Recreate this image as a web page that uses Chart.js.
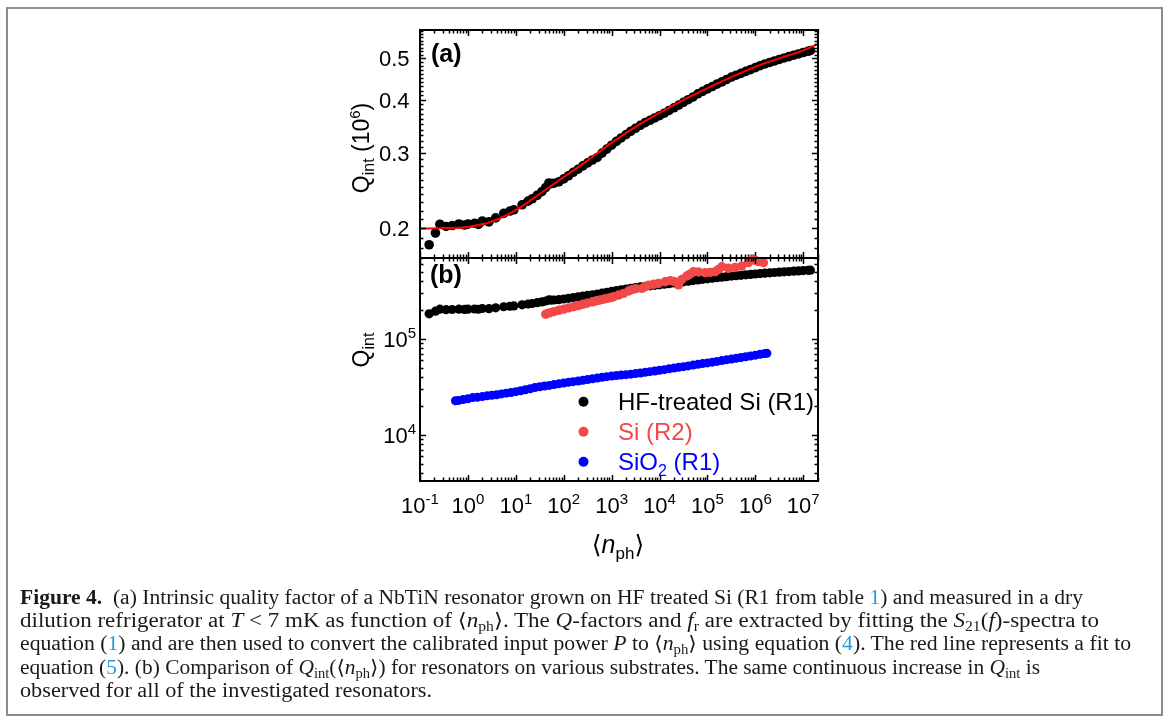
<!DOCTYPE html>
<html>
<head>
<meta charset="utf-8">
<script src="https://cdn.jsdelivr.net/npm/chart.js@4.4.0/dist/chart.umd.min.js"></script>
<style>
  html,body{margin:0;padding:0;background:#fff;}
  body{width:1174px;height:726px;overflow:hidden;position:relative;}
  #frame{position:absolute;left:6px;top:7px;width:1157px;height:709px;border:2px solid #8c8c8c;box-sizing:border-box;}
  canvas{position:absolute;left:0;top:0;}
  #cap{position:absolute;left:20px;top:586px;font-family:"Liberation Serif","DejaVu Serif","DejaVu Sans",serif;font-size:20px;line-height:23.2px;color:#1a1a1a;}
  #cap .ln{white-space:nowrap;display:block;width:max-content;transform-origin:0 50%;}
  #cap sub{font-size:0.68em;vertical-align:-0.3em;line-height:0;}
  #cap .lk{color:#2b9ad6;}
</style>
</head>
<body>
<div id="frame"></div>
<canvas id="ca" width="1174" height="726"></canvas>
<canvas id="cb" width="1174" height="726"></canvas>
<div id="cap">
  <div class="ln" data-right="1083"><b>Figure 4.</b>&nbsp;&nbsp;(a) Intrinsic quality factor of a NbTiN resonator grown on HF treated Si (R1 from table <span class="lk">1</span>) and measured in a dry</div>
  <div class="ln" data-right="1099">dilution refrigerator at <i>T</i> &lt; 7 mK as function of ⟨<i>n</i><sub>ph</sub>⟩. The <i>Q</i>-factors and <i>f</i><sub>r</sub> are extracted by fitting the <i>S</i><sub>21</sub>(<i>f</i>)-spectra to</div>
  <div class="ln" data-right="1131">equation (<span class="lk">1</span>) and are then used to convert the calibrated input power <i>P</i> to ⟨<i>n</i><sub>ph</sub>⟩ using equation (<span class="lk">4</span>). The red line represents a fit to</div>
  <div class="ln" data-right="1040">equation (<span class="lk">5</span>). (b) Comparison of <i>Q</i><sub>int</sub>(⟨<i>n</i><sub>ph</sub>⟩) for resonators on various substrates. The same continuous increase in <i>Q</i><sub>int</sub> is</div>
  <div class="ln" data-right="432">observed for all of the investigated resonators.</div>
</div>
<script>
// ---------------- data ----------------
// HF-treated Si (R1): mean photon number and Q_int (in units of 10^6)
const hfX = [0.155,0.21,0.26,0.35,0.47,0.65,0.85,1.0,1.38,1.66,
  2.0,2.75,3.8,5.6,7.5,9.1,13.5,18,22,28,
  35,42,49,55,63,79,100,126,158,200,
  251,316,398,501,631,794,1000,1260,1580,2000,
  2510,3160,3980,5010,6310,7940,1e4,1.26e4,1.58e4,2e4,
  2.51e4,3.16e4,3.98e4,5.01e4,6.31e4,7.94e4,1e5,1.26e5,1.58e5,2e5,
  2.51e5,3.16e5,3.98e5,5.01e5,6.31e5,7.94e5,1e6,1.26e6,1.58e6,2e6,
  2.51e6,3.16e6,3.98e6,5.01e6,6.31e6,7.94e6,1e7,1.26e7,1.41e7];
const hfQ = [0.183,0.195,0.2044,0.2020,0.2030,0.2047,0.2035,0.2045,0.2055,0.2042,
  0.2080,0.2070,0.2115,0.2168,0.2195,0.2210,0.2270,0.2315,0.2345,0.2390,
  0.2437,0.2490,0.2554,0.2545,0.2550,0.2570,0.2610,0.2655,0.2705,0.2750,
  0.2800,0.2845,0.2890,0.2930,0.3000,0.3065,0.3130,0.3195,0.3255,0.3315,
  0.3375,0.3430,0.3485,0.3535,0.3580,0.3625,0.3670,0.3720,0.3775,0.3830,
  0.3885,0.3945,0.4000,0.4060,0.4130,0.4185,0.4240,0.4295,0.4350,0.4405,
  0.4460,0.4520,0.4565,0.4610,0.4660,0.4705,0.4755,0.4805,0.4850,0.4890,
  0.4930,0.4970,0.5010,0.5045,0.5085,0.5120,0.5160,0.5195,0.5215];
// fit to equation (5) (units of 10^6)
const fitX = [0.1,0.316,1,3.16,10,31.6,100,316,1000,3162,1e4,31623,1e5,316228,1e6,3162278,1e7,2.03e7];
const fitQ = [0.1998,0.2002,0.2015,0.2075,0.2205,0.2410,0.2635,0.2885,0.3170,0.3455,0.3725,0.3995,0.4260,0.4520,0.4775,0.5000,0.5220,0.5400];
// Si (R2)
const siX = [42,50,62,79,100,126,162,200,251,306,
  398,480,575,690,800,950,1100,1400,1780,2260,
  2650,3200,4290,5000,5900,7500,9530,1.31e4,1.67e4,2.0e4,
  2.49e4,2.92e4,3.71e4,4.3e4,5.1e4,6.5e4,8.9e4,1.14e5,1.45e5,1.7e5,
  1.99e5,2.74e5,3.77e5,5.19e5,7.14e5,8.4e5,1.0e6,1.16e6,1.47e6];
const siQ = [1.81e5,1.87e5,1.93e5,1.99e5,2.05e5,2.11e5,2.17e5,2.23e5,2.30e5,2.36e5,
  2.44e5,2.50e5,2.55e5,2.60e5,2.65e5,2.70e5,2.76e5,2.87e5,2.99e5,3.16e5,
  3.27e5,3.35e5,3.37e5,3.50e5,3.63e5,3.72e5,3.80e5,3.95e5,4.06e5,3.98e5,
  3.67e5,4.17e5,4.53e5,4.73e5,5.02e5,4.99e5,4.91e5,4.94e5,5.02e5,5.30e5,
  5.66e5,5.45e5,5.58e5,5.75e5,6.24e5,6.76e5,6.60e5,6.40e5,6.24e5];
// SiO2 (R1)
const sio2X = [0.55,0.631,0.794,1,1.26,1.58,2.0,2.51,3.16,3.98,5.01,6.31,7.94,
  10,12.6,15.8,20,25.1,31.6,39.8,50.1,63.1,79.4,
  100,126,158,200,251,316,398,501,631,794,
  1000,1260,1580,2000,2510,3160,3980,5010,6310,7940,
  1e4,1.26e4,1.58e4,2e4,2.51e4,3.16e4,3.98e4,5.01e4,6.31e4,7.94e4,
  1e5,1.26e5,1.58e5,2e5,2.51e5,3.16e5,3.98e5,5.01e5,6.31e5,7.94e5,
  1e6,1.26e6,1.58e6,1.74e6];
const sio2Q = [22750,22910,23440,23880,24550,24770,25120,25590,25940,26300,
  26790,27290,27730,28310,28910,29650,30340,31260,31840,32360,
  32890,33500,34120,34750,35400,35970,36560,37150,37840,38460,
  39170,39900,40550,41110,41590,42070,42560,43050,43650,44260,
  44980,45710,46450,47210,47970,48870,49770,50700,51520,52480,
  53460,54450,55460,56360,57410,58480,59570,60670,61800,62950,
  64120,65310,66530,67920,69340,70630,70960];

// axis ranges and tick labels
const xMin = 0.1, xMax = 2.03e7;
const aYMin = 0.1704, aYMax = 0.5825;
const bYMin = 3319, bYMax = 6.98e5;
const xTickExponents = [-1,0,1,2,3,4,5,6,7];
const aTickValues = [0.2,0.3,0.4,0.5];
const aTickLabels = ['0.2','0.3','0.4','0.5'];
const bTickExponents = [4,5];
const legendLabels = ['HF-treated Si (R1)','Si (R2)','SiO₂ (R1)'];
const colBlack = '#000000', colRed = '#f24848', colBlue = '#0000ff', colFit = '#ff0000';

// ---------------- helpers ----------------
const SANS = '"Liberation Sans", Arial, sans-serif';
function fontOf(s){ return (s.italic?'italic ':'') + (s.bold?'bold ':'') + s.size + 'px ' + (s.fam || SANS); }
function drawRich(ctx, segs, x, y, align, color){
  let total = 0;
  segs.forEach(s => { ctx.font = fontOf(s); s.w = ctx.measureText(s.t).width; total += s.w; });
  let cx = align === 'center' ? x - total/2 : (align === 'right' ? x - total : x);
  ctx.textAlign = 'left'; ctx.textBaseline = 'alphabetic';
  segs.forEach(s => { ctx.font = fontOf(s); ctx.fillStyle = s.color || color || '#000'; ctx.fillText(s.t, cx, y + (s.dy||0)); cx += s.w; });
}
function pts(xs, ys, k){ return xs.map((x,i) => ({x:x, y:ys[i]*(k||1)})); }

function drawFrameAndTicks(chart, yTickList){
  const ctx = chart.ctx, a = chart.chartArea, xs = chart.scales.x, ys = chart.scales.y;
  ctx.save();
  ctx.strokeStyle = '#000'; ctx.lineWidth = 1.5;
  for (let k = -1; k <= 7; k++) for (let m = 1; m <= 9; m++) {
    const v = m * Math.pow(10, k);
    if (v < xMin*0.999 || v > xMax) continue;
    const p = Math.round(xs.getPixelForValue(v)) + 0.5;
    const len = m === 1 ? 6 : 3.5;
    ctx.beginPath();
    ctx.moveTo(p, a.bottom); ctx.lineTo(p, a.bottom - len);
    ctx.moveTo(p, a.top); ctx.lineTo(p, a.top + len);
    ctx.stroke();
  }
  yTickList.forEach(t => {
    const p = Math.round(ys.getPixelForValue(t.v)) + 0.5;
    const len = t.major ? 6 : 3.5;
    ctx.beginPath();
    ctx.moveTo(a.left, p); ctx.lineTo(a.left + len, p);
    ctx.moveTo(a.right, p); ctx.lineTo(a.right - len, p);
    ctx.stroke();
  });
  ctx.lineWidth = 2;
  ctx.strokeRect(a.left, a.top, a.right - a.left, a.bottom - a.top);
  ctx.restore();
}

// ---------------- panel (a) ----------------
const panelA = {
  id: 'panelA',
  afterDatasetsDraw(chart){
    const ctx = chart.ctx, ys = chart.scales.y;
    const ticks = [];
    for (let i = 17; i <= 58; i++) ticks.push({v: i/100, major: i % 10 === 0});
    drawFrameAndTicks(chart, ticks);
    ctx.save();
    aTickValues.forEach((v, i) => {
      const p = ys.getPixelForValue(v);
      drawRich(ctx, [{t: aTickLabels[i], size: 22}], 409.5, p + 8, 'right');
    });
    drawRich(ctx, [{t: '(a)', size: 25, bold: true}], 431, 61.5, 'left');
    ctx.translate(369, 148); ctx.rotate(-Math.PI/2);
    drawRich(ctx, [{t:'Q', size:23}, {t:'int', size:16, dy:5}, {t:' (10', size:23}, {t:'6', size:15, dy:-9}, {t:')', size:23}], 0, 0, 'center');
    ctx.restore();
  }
};

new Chart(document.getElementById('ca'), {
  type: 'scatter',
  data: { datasets: [
    { label: 'Fit', data: pts(fitX, fitQ), showLine: true, borderColor: colFit, borderWidth: 2,
      pointRadius: 0, cubicInterpolationMode: 'monotone', order: 0, clip: false },
    { label: legendLabels[0], data: pts(hfX, hfQ), showLine: false, pointRadius: 4.8,
      backgroundColor: colBlack, borderColor: colBlack, pointBorderWidth: 0, order: 1, clip: false }
  ]},
  options: {
    responsive: false, animation: false, events: [], devicePixelRatio: 1,
    layout: { padding: { left: 420, top: 30, right: 356, bottom: 468 } },
    scales: {
      x: { type: 'logarithmic', min: xMin, max: xMax, bounds: 'data', display: false },
      y: { type: 'logarithmic', min: aYMin, max: aYMax, bounds: 'data', display: false }
    },
    plugins: { legend: { display: false }, tooltip: { enabled: false } }
  },
  plugins: [panelA]
});

// ---------------- panel (b) ----------------
const panelB = {
  id: 'panelB',
  afterDatasetsDraw(chart){
    const ctx = chart.ctx, xs = chart.scales.x, ys = chart.scales.y;
    const ticks = [];
    for (let k = 3; k <= 5; k++) for (let m = 1; m <= 9; m++) {
      const v = m * Math.pow(10, k);
      if (v >= bYMin && v <= bYMax) ticks.push({v: v, major: m === 1});
    }
    drawFrameAndTicks(chart, ticks);
    ctx.save();
    bTickExponents.forEach(e => {
      const p = ys.getPixelForValue(Math.pow(10, e));
      drawRich(ctx, [{t:'10', size:22}, {t:String(e), size:15, dy:-9}], 416, p + 8, 'right');
    });
    xTickExponents.forEach(e => {
      const p = xs.getPixelForValue(Math.pow(10, e));
      drawRich(ctx, [{t:'10', size:22}, {t:String(e), size:15, dy:-9}], p, 513, 'center');
    });
    drawRich(ctx, [{t: '(b)', size: 25, bold: true}], 430, 283, 'left');
    drawRich(ctx, [{t:'⟨', size:25, fam:'"DejaVu Sans", sans-serif'}, {t:'n', size:25, italic:true},
      {t:'ph', size:17, dy:6}, {t:'⟩', size:25, fam:'"DejaVu Sans", sans-serif'}], 618, 553, 'center');
    const cols = [colBlack, colRed, colBlue];
    const rows = [401.7, 431.7, 461.7];
    legendLabels.forEach((lab, i) => {
      ctx.beginPath(); ctx.fillStyle = cols[i];
      ctx.arc(583.5, rows[i], 5, 0, Math.PI*2); ctx.fill();
      const segs = [];
      lab.split(/(₂)/).forEach(part => {
        if (!part) return;
        if (part === '₂') segs.push({t:'2', size:16, dy:6});
        else segs.push({t:part, size:24});
      });
      drawRich(ctx, segs, 618, rows[i] + 8.5, 'left', cols[i]);
    });
    ctx.translate(369, 350); ctx.rotate(-Math.PI/2);
    drawRich(ctx, [{t:'Q', size:23}, {t:'int', size:16, dy:5}], 0, 0, 'center');
    ctx.restore();
  }
};

new Chart(document.getElementById('cb'), {
  type: 'scatter',
  data: { datasets: [
    { label: legendLabels[1], data: pts(siX, siQ), pointRadius: 4.7, backgroundColor: colRed,
      borderColor: colRed, pointBorderWidth: 0, order: 0, clip: false },
    { label: legendLabels[0], data: pts(hfX, hfQ, 1e6), pointRadius: 4.6, backgroundColor: colBlack,
      borderColor: colBlack, pointBorderWidth: 0, order: 1, clip: false },
    { label: legendLabels[2], data: pts(sio2X, sio2Q), pointRadius: 4.5, backgroundColor: colBlue,
      borderColor: colBlue, pointBorderWidth: 0, order: 2, clip: false }
  ]},
  options: {
    responsive: false, animation: false, events: [], devicePixelRatio: 1,
    layout: { padding: { left: 420, top: 258, right: 356, bottom: 245 } },
    scales: {
      x: { type: 'logarithmic', min: xMin, max: xMax, bounds: 'data', display: false },
      y: { type: 'logarithmic', min: bYMin, max: bYMax, bounds: 'data', display: false }
    },
    plugins: { legend: { display: false }, tooltip: { enabled: false } }
  },
  plugins: [panelB]
});

document.querySelectorAll('#cap .ln').forEach(el => {
  const target = parseFloat(el.dataset.right) - 20;
  const w = el.getBoundingClientRect().width;
  if (w > 0) el.style.transform = 'scaleX(' + (target / w).toFixed(4) + ')';
});
</script>
</body>
</html>
